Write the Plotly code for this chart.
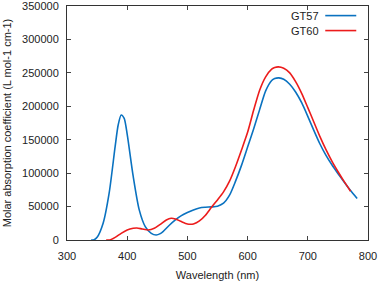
import plotly.graph_objects as go

# GT57 data
wl_gt57 = [340, 344, 350, 360, 370, 380, 385, 390, 395, 400, 410, 420, 430, 440, 448, 455, 460, 470,
           480, 490, 500, 510, 520, 530, 540, 550, 560, 570, 580, 590, 600, 610, 620, 630, 640, 645,
           652, 660, 670, 680, 690, 700, 710, 720, 730, 740, 750, 760, 770, 782]
abs_gt57 = [0, 0, 4000, 25000, 70000, 140000, 172000, 187000, 182000, 158000, 95000, 45000, 20000,
            10000, 7500, 9500, 13000, 22000, 30000, 36500, 41000, 45000, 48000, 49000, 49500, 50500,
            55000, 67000, 88000, 112000, 139000, 166000, 195000, 223000, 238500, 241500, 242500,
            240500, 233000, 221000, 205000, 185000, 164000, 144000, 127000, 112500, 99500, 87000,
            75000, 62000]

# GT60 data
wl_gt60 = [365, 371, 380, 390, 400, 410, 416, 425, 435, 445, 455, 465, 473, 480, 490, 500, 505, 510,
           520, 530, 540, 550, 560, 570, 580, 590, 600, 610, 620, 630, 640, 645, 651, 660, 670, 680,
           690, 700, 710, 720, 730, 740, 750, 760, 771]
abs_gt60 = [0, 0, 4000, 10000, 15000, 17500, 18000, 16500, 15000, 17500, 23500, 30000, 32500, 31500,
            27500, 24000, 23500, 24000, 28500, 37000, 49000, 60000, 72000, 88000, 110000, 135000,
            161000, 194000, 224000, 244000, 255500, 258000, 259000, 257000, 250000, 236500, 219000,
            198000, 176500, 155000, 135500, 118000, 102500, 88000, 73000]

x_ticks = [300, 400, 500, 600, 700, 800]
y_ticks = [0, 50000, 100000, 150000, 200000, 250000, 300000, 350000]
y_tick_text = [str(v) for v in y_ticks]
series_names = ["GT57", "GT60"]
colors = ["#0a72c0", "#ec1c1c"]

fig = go.Figure()
fig.add_trace(go.Scatter(x=wl_gt57, y=abs_gt57, mode="lines", name=series_names[0],
                         line=dict(color=colors[0], width=1.6, shape="spline", smoothing=0.7)))
fig.add_trace(go.Scatter(x=wl_gt60, y=abs_gt60, mode="lines", name=series_names[1],
                         line=dict(color=colors[1], width=1.6, shape="spline", smoothing=0.7)))

font = dict(family="Liberation Sans, Arial, sans-serif", size=11, color="#222")

fig.update_layout(
    width=380, height=281,
    margin=dict(l=67, r=12, t=6, b=41),
    paper_bgcolor="white", plot_bgcolor="white",
    showlegend=False,
    font=font,
)
fig.update_xaxes(range=[300, 800], tickvals=x_ticks, ticks="inside", ticklen=4,
                 showline=True, linecolor="#333", linewidth=1, mirror="ticks",
                 showgrid=False, zeroline=False, ticklabelstandoff=6, automargin=False,
                 ticklabeloverflow="allow",
                 title=dict(text="Wavelength (nm)", standoff=10, font=font))
fig.update_yaxes(range=[0, 350000], tickvals=y_ticks, ticktext=y_tick_text, ticks="inside", ticklen=4,
                 showline=True, linecolor="#333", linewidth=1, mirror="ticks",
                 showgrid=False, zeroline=False, ticklabelstandoff=5, automargin=False,
                 ticklabeloverflow="allow",
                 title=dict(text="Molar absorption coefficient (L mol-1 cm-1)", standoff=8, font=font))

# Legend (text left, line sample right)
leg_y = [0.959, 0.895]
for i, name in enumerate(series_names):
    fig.add_annotation(x=0.844, y=leg_y[i], xref="paper", yref="paper", text=name,
                       showarrow=False, xanchor="right", yanchor="middle", font=font)
    fig.add_shape(type="line", xref="paper", yref="paper", x0=0.858, x1=0.961,
                  y0=leg_y[i], y1=leg_y[i], line=dict(color=colors[i], width=1.6))

fig.write_html("out.html", config={"displayModeBar": False},
               post_script="document.body.style.margin='0';")
